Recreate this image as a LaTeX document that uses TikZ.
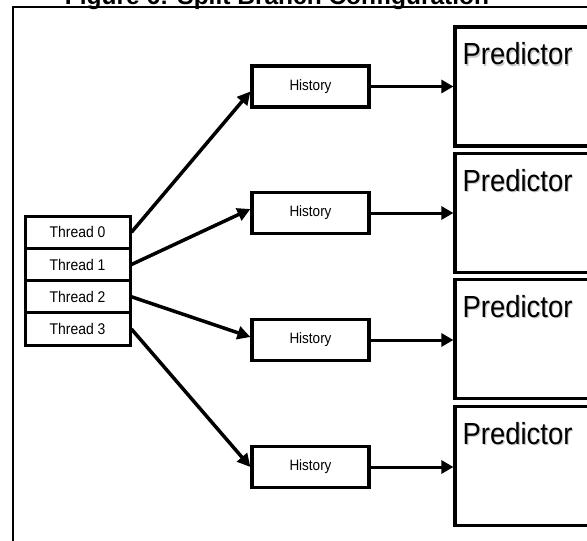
\documentclass[tikz,border=0pt]{standalone}
\usepackage{fontspec}
\setmainfont{Liberation Sans}
\newfontfamily\narrowsans[FakeStretch=0.9]{Liberation Sans}
\usetikzlibrary{arrows.meta}
\begin{document}
\begin{tikzpicture}[x=1pt,y=-1pt,
  threadbox/.style={draw, line width=3pt, minimum width=105pt, minimum height=32.3pt,
    inner sep=0pt, font=\narrowsans\fontsize{15.5}{15.5}\selectfont},
  histbox/.style={draw, line width=3.2pt, minimum width=117pt, minimum height=41pt,
    inner sep=0pt, font=\narrowsans\fontsize{15}{15}\selectfont},
  predbox/.style={draw, line width=3.2pt, minimum width=150pt, minimum height=119pt, inner sep=0pt},
  predtext/.style={font=\narrowsans\fontsize{30.5}{30.5}\selectfont, inner sep=0pt, anchor=base west},
  predshadow/.style={predtext, text=black!22},
  feed/.style={line width=3.5pt, -{Triangle[length=13pt,width=13pt]}},
  pass/.style={line width=3pt, -{Triangle[length=12pt,width=13pt]}}
]
\useasboundingbox (0,0) rectangle (587,541);
\clip (0,0) rectangle (587,541);

% caption and frame
\node[font=\bfseries\fontsize{24.5}{24.5}\selectfont, anchor=base, inner sep=0pt] (title) at (277,4)
  {Figure 6: Split Branch Configuration};
\draw[line width=1.6pt] (13,541) -- (13,7) -- (595,7);

% thread table
\node[threadbox] (t0) at (77.5,232.2) {Thread 0};
\node[threadbox] (t1) at (77.5,264.5) {Thread 1};
\node[threadbox] (t2) at (77.5,296.8) {Thread 2};
\node[threadbox] (t3) at (77.5,329.1) {Thread 3};

% history registers
\node[histbox] (h0) at (310.5,86.5) {History};
\node[histbox] (h1) at (310.5,213) {History};
\node[histbox] (h2) at (310.5,340) {History};
\node[histbox] (h3) at (310.5,467) {History};

% predictor tables
\foreach \i/\y in {0/86.5,1/212.8,2/339.3,3/466.3}{
  \node[predbox] (p\i) at (530,\y) {};
  \node[predshadow] (ps\i) at ([shift={(10.2,40.6)}]p\i.north west) {Predictor};
  \node[predtext] (pl\i) at ([shift={(9,39.5)}]p\i.north west) {Predictor};
}

% thread to history connections
\draw[feed] (t0.east) -- ([yshift=-5pt]h0.west);
\draw[feed] (t1.east) -- ([yshift=4pt]h1.west);
\draw[feed] (t2.east) -- ([yshift=3pt]h2.west);
\draw[feed] (t3.east) -- (h3.west);

% history to predictor connections
\foreach \i in {0,1,2,3}{
  \draw[pass] (h\i.east) -- (h\i.east -| p\i.west);
}
\end{tikzpicture}
\end{document}
